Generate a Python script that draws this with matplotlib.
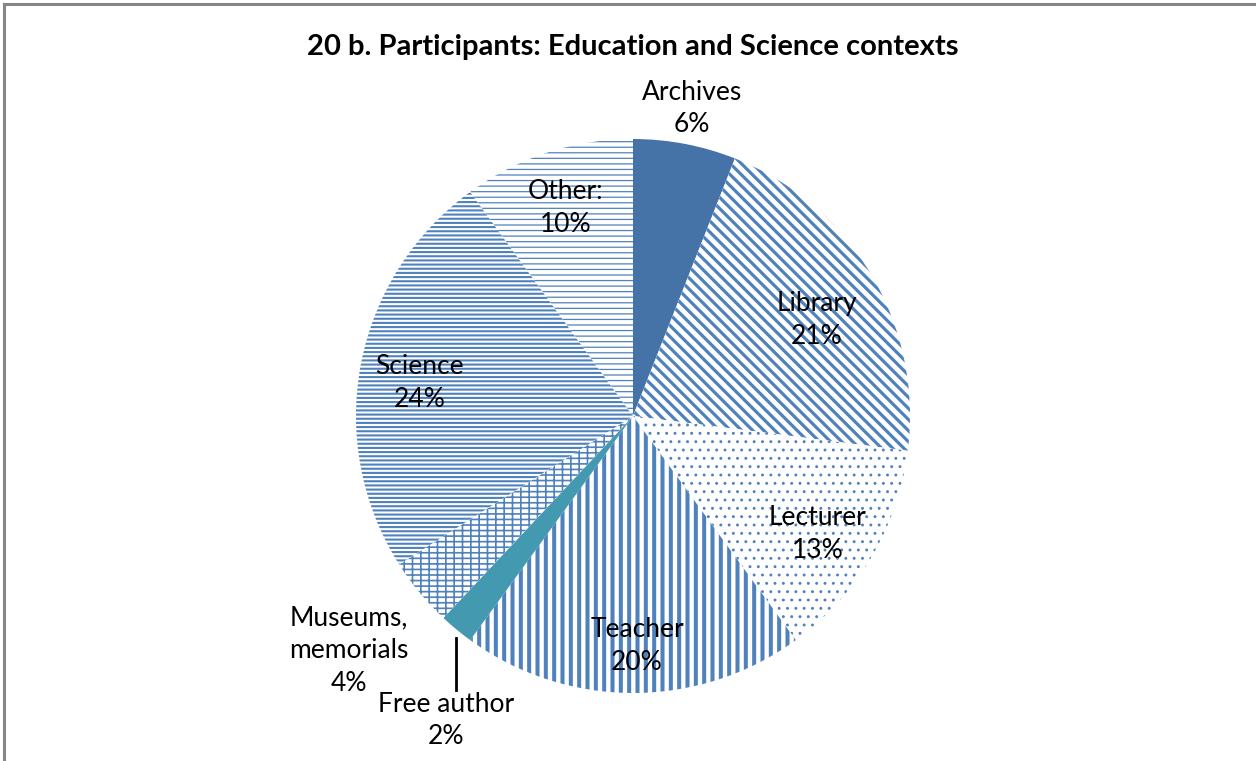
import numpy as np
import matplotlib.pyplot as plt
from matplotlib.lines import Line2D

# data (clockwise from 12 o'clock)
categories = ['Archives', 'Library', 'Lecturer', 'Teacher', 'Free author',
              'Museums,\nmemorials', 'Science', 'Other:']
shares = [6, 21, 13, 20, 2, 4, 24, 10]
title = '20 b. Participants: Education and Science contexts'

# styling per slice
blue = '#4F81BD'
face_colors = ['#4572A7', 'white', 'white', 'white', '#4299B0', 'white', 'white', 'white']
hatches = [None, '\\\\\\', '..', '||', None, '---||', '----', '---']
hatch_lw = [0, 2.3, 0.9, 2.9, 0, 1.2, 1.5, 0.9]
label_dist = [1.13, 0.75, 0.79, 0.83, 1.29, 1.33, 0.78, 0.79]
label_shift = [0, -3, -2, 1, 8, 0, 2, 0]  # degrees, nudges the label angle

plt.rcParams['font.family'] = ['Lato', 'DejaVu Sans']

W, H = 1256, 761
cx, cy, rad = 633, 416, 277
fig = plt.figure(figsize=(W / 100, H / 100), dpi=100)

a = 1.4
side = 2 * a * rad
ax = fig.add_axes([(cx - side / 2) / W, (H - cy - side / 2) / H, side / W, side / H])

wedges, _ = ax.pie(shares, startangle=90, counterclock=False, radius=1,
                   colors=face_colors, wedgeprops=dict(linewidth=0))
for w, h, lw in zip(wedges, hatches, hatch_lw):
    if h:
        w.set_hatch(h)
        w.set_edgecolor(blue)
        w.set_linewidth(0)
        if hasattr(w, 'set_hatch_linewidth'):
            w.set_hatch_linewidth(lw)
        else:
            w._hatch_linewidth = lw

ax.set_xlim(-a, a)
ax.set_ylim(-a, a)
ax.set_aspect('equal')
ax.axis('off')

# labels
total = sum(shares)
cum = np.cumsum([0] + shares)
for i, (name, v) in enumerate(zip(categories, shares)):
    mid = 90 - (cum[i] + v / 2) / total * 360
    ang = np.deg2rad(mid + label_shift[i])
    x, y = label_dist[i] * np.cos(ang), label_dist[i] * np.sin(ang)
    ax.text(x, y, f'{name}\n{round(v / total * 100)}%', ha='center', va='center',
            fontsize=19, linespacing=1.38, color='black')

# leader line for the thin slice
i = categories.index('Free author')
mid = np.deg2rad(90 - (cum[i] + shares[i] / 2) / total * 360)
x0, y0 = np.cos(mid), np.sin(mid)
ax.plot([x0, x0], [y0 - 0.03, -0.99], color='black', lw=2, clip_on=False)

fig.text(cx / W, 1 - 47 / H, title, ha='center', va='center',
         fontsize=21, fontweight='bold')

# chart frame (only left and top edges visible)
fig.add_artist(Line2D([4 / W, 4 / W], [0, 1 - 4 / H], color='#868686', lw=2.2))
fig.add_artist(Line2D([4 / W, 1], [1 - 4 / H, 1 - 4 / H], color='#868686', lw=2.2))

fig.savefig('out.png', dpi=100)
